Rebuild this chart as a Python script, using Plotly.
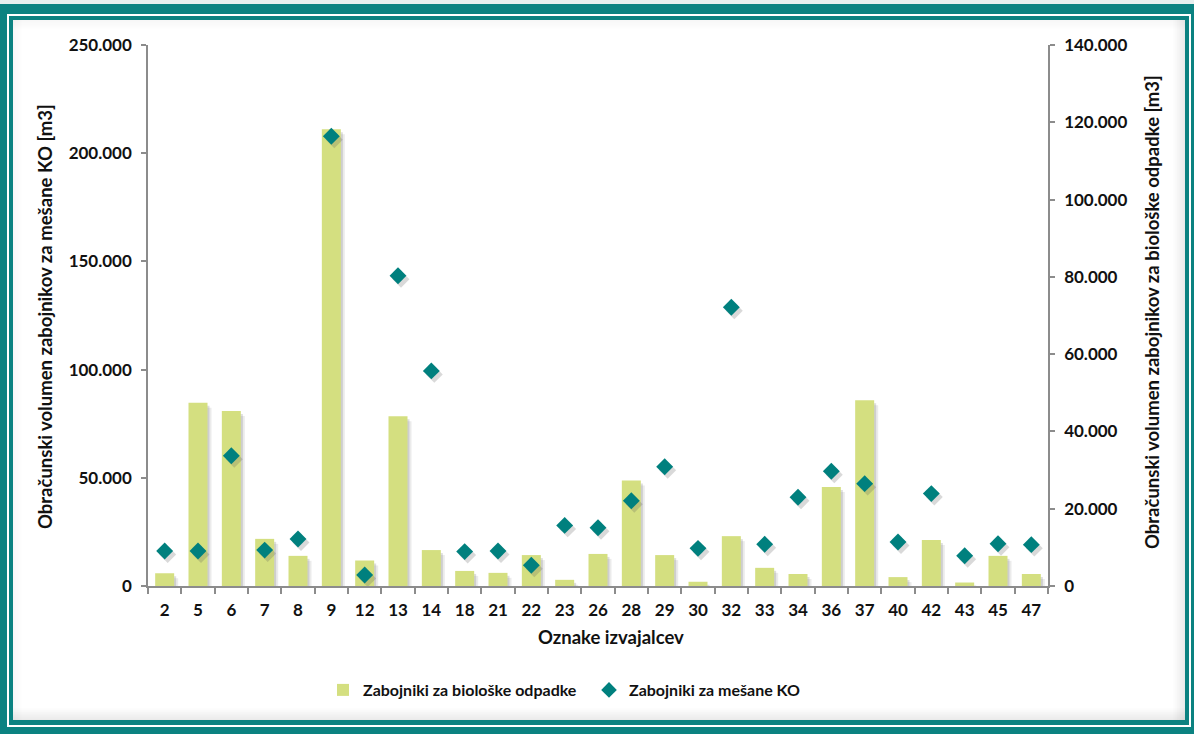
import plotly.graph_objects as go

categories = ["2", "5", "6", "7", "8", "9", "12", "13", "14", "18", "21", "22", "23", "26",
              "28", "29", "30", "32", "33", "34", "36", "37", "40", "42", "43", "45", "47"]
bio_values = [3300, 47400, 45300, 12200, 7800, 118200, 6600, 43900, 9300, 3900, 3400, 8000,
              1600, 8300, 27300, 8000, 1100, 12900, 4700, 3100, 25600, 48100, 2300, 11900,
              900, 7800, 3100]
mixed_values = [16200, 16200, 60200, 16600, 21700, 207800, 5100, 143400, 99400, 15900, 16200,
                9600, 28000, 26900, 39400, 55100, 17400, 128800, 19300, 41000, 53000, 47300,
                20300, 42700, 14000, 19500, 19100]
left_ticks = [0, 50000, 100000, 150000, 200000, 250000]
right_ticks = [0, 20000, 40000, 60000, 80000, 100000, 120000, 140000]

W, H = 1194, 734
L, R, T, B = 148, 1048, 45, 586
PW, PH = R - L, B - T
TEAL = "#0b8281"
BAR = "#d4df80"
DIAM = "#00807e"
AX = "#8c8c8c"
FONT = "Lato"

def px(x):
    return (x - L) / PW

def py(y):
    return (B - y) / PH

xs = list(range(len(categories)))
cat_px = PW / len(categories)
bar_unit = 140000 / PH
mix_unit = 250000 / PH

fig = go.Figure()
# bar shadows (soft, two layers) + bars (main y axis, right side)
for dx, alpha in [(2.0, 0.20), (4.0, 0.12)]:
    fig.add_trace(go.Bar(x=[v + dx / cat_px for v in xs],
                         y=[max(v - (dx + 1) * bar_unit, 0) for v in bio_values],
                         width=0.57, marker=dict(color=f"rgba(90,90,90,{alpha})", line=dict(width=0)),
                         showlegend=False, hoverinfo="skip", yaxis="y"))
fig.add_trace(go.Bar(x=xs, y=bio_values, width=0.57, name="Zabojniki za biološke odpadke",
                     marker=dict(color=BAR, line=dict(width=0)), yaxis="y"))
# diamond shadows + diamonds (left axis)
fig.add_trace(go.Scatter(x=[v + 3.0 / cat_px for v in xs], y=[v - 3.5 * mix_unit for v in mixed_values],
                         mode="markers", marker=dict(symbol="diamond", size=13, color="rgba(80,80,80,0.22)"),
                         showlegend=False, hoverinfo="skip", yaxis="y2"))
fig.add_trace(go.Scatter(x=xs, y=mixed_values, mode="markers", name="Zabojniki za mešane KO",
                         marker=dict(symbol="diamond", size=13, color=DIAM), yaxis="y2"))

shapes = []
def rect(x0, y0, x1, y1, **kw):
    d = dict(type="rect", xref="paper", yref="paper", x0=px(x0), x1=px(x1), y0=py(y1), y1=py(y0), layer="below")
    d.update(kw)
    shapes.append(d)

# outer frame
rect(0, 0, W, 4, fillcolor="#e6eeee", line=dict(width=0))
rect(8, 15, 1190, 726, fillcolor="rgba(0,0,0,0)", line=dict(color="white", width=2))
# panel
rect(13, 20, 1185, 720, fillcolor="white", line=dict(width=0))
# inner shadow gradient
for i in range(9):
    a = 0.07 * (1 - i / 9)
    rect(13, 20 + i, 1185, 21 + i, fillcolor=f"rgba(60,60,60,{a*0.6:.3f})", line=dict(width=0))
    rect(13 + i, 20, 14 + i, 720, fillcolor=f"rgba(60,60,60,{a*0.6:.3f})", line=dict(width=0))
for i in range(12):
    a = 0.10 * (1 - i / 12)
    rect(13, 719 - i, 1185, 720 - i, fillcolor=f"rgba(50,50,50,{a:.3f})", line=dict(width=0))
    rect(1184 - i, 20, 1185 - i, 720, fillcolor=f"rgba(50,50,50,{a:.3f})", line=dict(width=0))

def fmt(v):
    return f"{v:,}".replace(",", ".")

tickfont = dict(size=17, family=FONT, weight="bold", color="#111111")
titlefont = dict(size=18.5, family=FONT, weight="bold", color="#111111")

fig.update_layout(
    width=W, height=H,
    margin=dict(l=L, r=W - R, t=T, b=H - B, autoexpand=False),
    paper_bgcolor=TEAL, plot_bgcolor="rgba(0,0,0,0)",
    barmode="overlay",
    font=dict(family=FONT, color="#111111"),
    shapes=shapes,
    xaxis=dict(range=[-0.5, len(categories) - 0.5], tickmode="array", tickvals=xs, ticktext=categories,
               ticks="", showgrid=False, zeroline=False, showline=True, linecolor=AX, linewidth=1.5,
               tickfont=tickfont, ticklabelstandoff=8,
               minor=dict(tickmode="array", tickvals=[i - 0.5 for i in range(len(categories) + 1)],
                          ticks="outside", ticklen=6, tickcolor=AX, tickwidth=1.5, showgrid=False)),
    yaxis=dict(side="right", range=[0, 140000], tickmode="array", tickvals=right_ticks,
               ticktext=[fmt(v) for v in right_ticks], ticks="outside", ticklen=5, tickcolor=AX,
               tickwidth=1.5, showgrid=False, zeroline=False, showline=True, linecolor=AX, linewidth=1.5,
               tickfont=tickfont, ticklabelstandoff=6),
    yaxis2=dict(overlaying="y", side="left", range=[0, 250000], tickmode="array", tickvals=left_ticks,
                ticktext=[fmt(v) for v in left_ticks], ticks="outside", ticklen=5, tickcolor=AX,
                tickwidth=1.5, showgrid=False, zeroline=False, showline=True, linecolor=AX, linewidth=1.5,
                tickfont=tickfont, ticklabelstandoff=6),
    legend=dict(orientation="h", x=px(323), xanchor="left", y=py(690), yanchor="middle",
                font=dict(size=16, family=FONT, weight="bold", color="#111111"), bgcolor="rgba(0,0,0,0)",
                itemsizing="constant", entrywidth=221, entrywidthmode="pixels"),
    annotations=[
        dict(text="Obračunski volumen zabojnikov za mešane KO [m3]", xref="paper", yref="paper",
             x=px(45), y=py(317), textangle=-90, showarrow=False, xanchor="center", yanchor="middle",
             font=titlefont),
        dict(text="Obračunski volumen zabojnikov za biološke odpadke [m3]", xref="paper", yref="paper",
             x=px(1152), y=py(312), textangle=-90, showarrow=False, xanchor="center", yanchor="middle",
             font=titlefont),
        dict(text="Oznake izvajalcev", xref="paper", yref="paper", x=px(611), y=py(637),
             showarrow=False, xanchor="center", yanchor="middle",
             font=dict(size=18.5, family=FONT, weight="bold", color="#111111")),
    ],
)

fig.write_html("out.html", config={"displayModeBar": False},
               post_script="document.body.style.margin='0';document.body.style.overflow='hidden';")
